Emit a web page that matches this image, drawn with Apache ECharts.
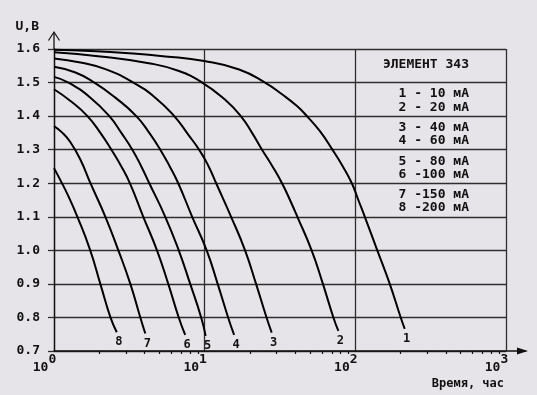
<!DOCTYPE html>
<html><head><meta charset="utf-8">
<style>html,body{margin:0;padding:0;background:#e7e4e9}#c{width:537px;height:395px}</style>
<script src="https://cdn.jsdelivr.net/npm/echarts@6/dist/echarts.min.js"></script>
</head><body><div id="c"></div>
<script>
// ---- data ----
const currents = [10, 20, 40, 60, 80, 100, 150, 200]; // mA
const titleText = 'ЭЛЕМЕНТ 343';
const yName = 'U,B';
const xName = 'Время, час';

const t1 = [1, 1.745, 2.975, 5.476, 9.924, 16.93, 25.16, 32.61, 41.0, 47.74, 58.21, 70.43, 82.63, 94.8, 104.7, 115.6, 139.9, 169.2, 200.1, 212.7];
const v1 = [1.598, 1.594, 1.588, 1.578, 1.564, 1.539, 1.5, 1.465, 1.43, 1.4, 1.355, 1.3, 1.25, 1.2, 1.15, 1.1, 1.0, 0.9, 0.8, 0.766];
const t2 = [1, 2.032, 4.356, 6.677, 9.625, 13.57, 17.37, 20.63, 24.03, 28.2, 32.61, 36.83, 41.24, 51.28, 60.92, 71.5, 77.17];
const v2 = [1.59, 1.578, 1.557, 1.535, 1.5, 1.45, 1.4, 1.35, 1.3, 1.25, 1.2, 1.15, 1.1, 1.0, 0.9, 0.8, 0.76];
const t3 = [1, 1.498, 2.193, 3.362, 4.701, 6.281, 7.776, 9.338, 10.63, 11.92, 14.98, 18.54, 21.93, 25.74, 27.86];
const v3 = [1.572, 1.56, 1.54, 1.5, 1.455, 1.4, 1.345, 1.295, 1.25, 1.2, 1.1, 1.0, 0.9, 0.8, 0.755];
const t4 = [1, 1.388, 1.854, 2.555, 3.518, 4.29, 5.074, 5.865, 6.677, 8.263, 10.31, 12.2, 14.31, 15.68];
const v4 = [1.547, 1.53, 1.5, 1.455, 1.4, 1.35, 1.3, 1.25, 1.2, 1.1, 1.0, 0.9, 0.8, 0.748];
const t5 = [1, 1.247, 1.745, 2.331, 2.799, 3.311, 3.797, 4.29, 5.476, 6.728, 8.017, 9.48, 10.15];
const v5 = [1.517, 1.5, 1.455, 1.4, 1.35, 1.3, 1.25, 1.2, 1.1, 1.0, 0.9, 0.8, 0.745];
const t6 = [1, 1.286, 1.667, 2.032, 2.403, 2.799, 3.187, 3.914, 4.825, 5.732, 6.728, 7.428];
const v6 = [1.48, 1.445, 1.4, 1.35, 1.3, 1.25, 1.2, 1.1, 1.0, 0.9, 0.8, 0.748];
const t7 = [1, 1.139, 1.286, 1.498, 1.745, 2.193, 2.674, 3.211, 3.74, 4.036];
const v7 = [1.37, 1.35, 1.322, 1.27, 1.2, 1.1, 1.0, 0.9, 0.8, 0.752];
const t8 = [1, 1.10, 1.25, 1.43, 1.74, 2.03, 2.37, 2.61];
const v8 = [1.245, 1.21, 1.16, 1.1, 1.0, 0.9, 0.8, 0.756];

const minorTickValues = [2,3,4,5,6,7,8,9,20,30,40,50,60,70,80,90,200,300,400,500,600,700,800,900];

// ---- chart ----
const FONT = "'DejaVu Sans Mono', monospace";
const INK = '#111';
const GRID = '#2e2e2e';
const curves = [[t1,v1],[t2,v2],[t3,v3],[t4,v4],[t5,v5],[t6,v6],[t7,v7],[t8,v8]];

const series = curves.map(([ts, vs], i) => ({
  name: String(i + 1),
  type: 'line',
  data: ts.map((t, j) => ({
    value: [t, vs[j]],
    label: { show: j === ts.length - 1 }
  })),
  smooth: 0.5,
  symbol: 'circle',
  symbolSize: 0,
  showSymbol: true,
  lineStyle: { color: '#000', width: 2 },
  itemStyle: { color: '#000' },
  label: {
    position: 'bottom', distance: 4, offset: [2, 0],
    formatter: '{a}', fontFamily: FONT, fontWeight: 'bold', fontSize: 12, color: INK
  },
  emphasis: { disabled: true },
  z: 3
}));

const legendLines = [titleText].concat(currents.map((c, i) => `${i + 1} -${String(c).padStart(3, ' ')} мА`));
const legendY = [65, 93.5, 107.5, 128, 141, 161.5, 174.5, 195, 208];

const graphic = legendLines.map((txt, i) => ({
  type: 'text', x: 469, y: legendY[i],
  style: { text: txt, textAlign: 'right', textVerticalAlign: 'middle',
           font: `bold 13px ${FONT}`, fill: INK }
})).concat([
  { type: 'text', x: 504, y: 384,
    style: { text: xName, textAlign: 'right', textVerticalAlign: 'middle', font: `bold 12px ${FONT}`, fill: INK } },
  { type: 'line', shape: { x1: 54, y1: 49, x2: 54, y2: 33 }, style: { stroke: INK, lineWidth: 1.3 } },
  { type: 'polyline', shape: { points: [[48.5, 40.5], [54, 32], [59.5, 40.5]] }, style: { stroke: INK, lineWidth: 1.2, fill: null } },
  { type: 'line', shape: { x1: 506, y1: 351, x2: 526, y2: 351 }, style: { stroke: INK, lineWidth: 1.5 } },
  { type: 'polygon', shape: { points: [[517, 347.5], [528, 351], [517, 354.5]] }, style: { fill: INK } }
]);

const chart = echarts.init(document.getElementById('c'), null, { renderer: 'canvas' });
chart.setOption({
  animation: false,
  backgroundColor: '#e7e4e9',
  grid: { left: 54, top: 49, right: 31, bottom: 44, outerBoundsMode: 'none', containLabel: false },
  xAxis: [{
    type: 'log', logBase: 10, min: 1, max: 1000,
    axisLine: { show: true, lineStyle: { color: INK, width: 1.5 } },
    axisTick: { show: false },
    splitLine: { show: true, lineStyle: { color: GRID, width: 1.3 } },
    axisLabel: {
      margin: 2, padding: [0, 19, 0, 0],
      formatter: v => '{b|10}{s|' + Math.round(Math.log10(v)) + '}',
      rich: {
        b: { fontFamily: FONT, fontWeight: 'bold', fontSize: 13, color: INK, lineHeight: 30 },
        s: { fontFamily: FONT, fontWeight: 'bold', fontSize: 13, color: INK, lineHeight: 12, verticalAlign: 'top' }
      }
    }
  }, {
    type: 'log', logBase: 10, min: 1, max: 1000, position: 'bottom',
    axisLine: { show: false }, axisLabel: { show: false }, splitLine: { show: false },
    axisTick: { show: true, customValues: minorTickValues, length: 3, lineStyle: { color: INK, width: 1.2 } }
  }],
  yAxis: {
    type: 'value', min: 0.7, max: 1.6, interval: 0.1,
    axisLine: { show: true, lineStyle: { color: INK, width: 1.3 } },
    axisTick: { show: true, length: 6, lineStyle: { color: GRID, width: 1.3 } },
    splitLine: { show: true, lineStyle: { color: GRID, width: 1.3 } },
    axisLabel: { formatter: v => v.toFixed(1), margin: 14, fontFamily: FONT, fontWeight: 'bold', fontSize: 13, color: INK },
    name: yName, nameLocation: 'end', nameGap: 16,
    nameTextStyle: { fontFamily: FONT, fontWeight: 'bold', fontSize: 13, color: INK,
                     align: 'right', verticalAlign: 'bottom', padding: [0, 15, 0, 0] }
  },
  series: series,
  graphic: graphic
});
</script>
</body></html>
